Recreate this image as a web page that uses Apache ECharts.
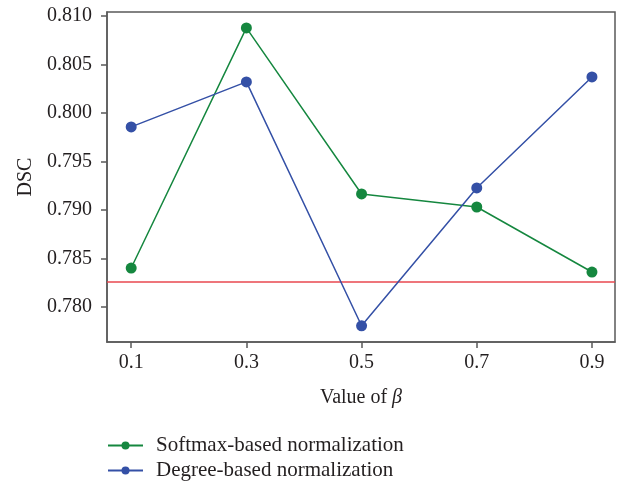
<!DOCTYPE html>
<html>
<head>
<meta charset="utf-8">
<script src="https://cdn.jsdelivr.net/npm/echarts@6/dist/echarts.min.js"></script>
<style>html,body{margin:0;padding:0;background:#fff}#c{width:620px;height:482px}</style>
</head>
<body>
<div id="c"></div>
<script>
var betaValues = [0.1, 0.3, 0.5, 0.7, 0.9];
var softmaxDSC = [0.78402, 0.80876, 0.79165, 0.79031, 0.78361];
var degreeDSC = [0.79856, 0.80320, 0.77807, 0.79227, 0.80371];
var baselineDSC = 0.78258;
var yTicks = [0.780, 0.785, 0.790, 0.795, 0.800, 0.805, 0.810];
var seriesNames = ['Softmax-based normalization', 'Degree-based normalization'];

var FONT = '"Liberation Serif", "DejaVu Serif", serif';
var TXT = '#231f20';
var AX = '#5a5a5a';
var X_MIN = 0.058, X_MAX = 0.94;

function pairs(xs, ys) { return xs.map(function (x, i) { return [x, ys[i]]; }); }

var legendCommon = {
  orient: 'horizontal', left: 102, itemWidth: 35, itemHeight: 10,
  textStyle: { fontFamily: FONT, fontSize: 21, color: TXT, padding: [0, 0, 0, 8] }
};

var chart = echarts.init(document.getElementById('c'));
chart.setOption({
  animation: false,
  backgroundColor: '#fff',
  grid: { left: 107, right: 5, top: 12, bottom: 140, show: true, borderColor: AX, borderWidth: 1.5, backgroundColor: 'transparent' },
  xAxis: {
    type: 'value', min: X_MIN, max: X_MAX,
    name: 'Value of {i|β}', nameLocation: 'middle', nameGap: 46,
    nameTextStyle: { fontFamily: FONT, fontSize: 20, color: TXT, rich: { i: { fontFamily: FONT, fontStyle: 'italic', fontSize: 20, color: TXT } } },
    axisLine: { show: true, lineStyle: { color: AX, width: 1.5 } },
    axisTick: { show: true, length: 6, lineStyle: { color: AX, width: 1.5 }, customValues: betaValues },
    axisLabel: { fontFamily: FONT, fontSize: 20, color: TXT, margin: 11, customValues: betaValues, formatter: function (v) { return v.toFixed(1); } },
    splitLine: { show: false }
  },
  yAxis: {
    type: 'value', min: 0.7764, max: 0.8104,
    name: 'DSC', nameLocation: 'middle', nameGap: 71,
    nameTextStyle: { fontFamily: FONT, fontSize: 20, color: TXT },
    axisLine: { show: true, lineStyle: { color: AX, width: 1.5 } },
    axisTick: { show: true, length: 6, lineStyle: { color: AX, width: 1.5 }, customValues: yTicks },
    axisLabel: { fontFamily: FONT, fontSize: 20, color: TXT, margin: 15, customValues: yTicks, formatter: function (v) { return v.toFixed(3); } },
    splitLine: { show: false }
  },
  legend: [
    Object.assign({}, legendCommon, { top: 430, data: [seriesNames[0]] }),
    Object.assign({}, legendCommon, { top: 455, data: [seriesNames[1]] })
  ],
  series: [
    {
      name: 'baseline', type: 'line', data: [[X_MIN, baselineDSC], [X_MAX, baselineDSC]],
      symbol: 'none', silent: true, lineStyle: { width: 1.5, color: '#e8474f' }, z: 1
    },
    {
      name: seriesNames[0], type: 'line', data: pairs(betaValues, softmaxDSC),
      symbol: 'circle', symbolSize: 11, color: '#15873f',
      lineStyle: { width: 1.5, color: '#15873f' }, itemStyle: { color: '#15873f' }, z: 3
    },
    {
      name: seriesNames[1], type: 'line', data: pairs(betaValues, degreeDSC),
      symbol: 'circle', symbolSize: 11, color: '#3450a6',
      lineStyle: { width: 1.5, color: '#3450a6' }, itemStyle: { color: '#3450a6' }, z: 3
    }
  ]
});
</script>
</body>
</html>
